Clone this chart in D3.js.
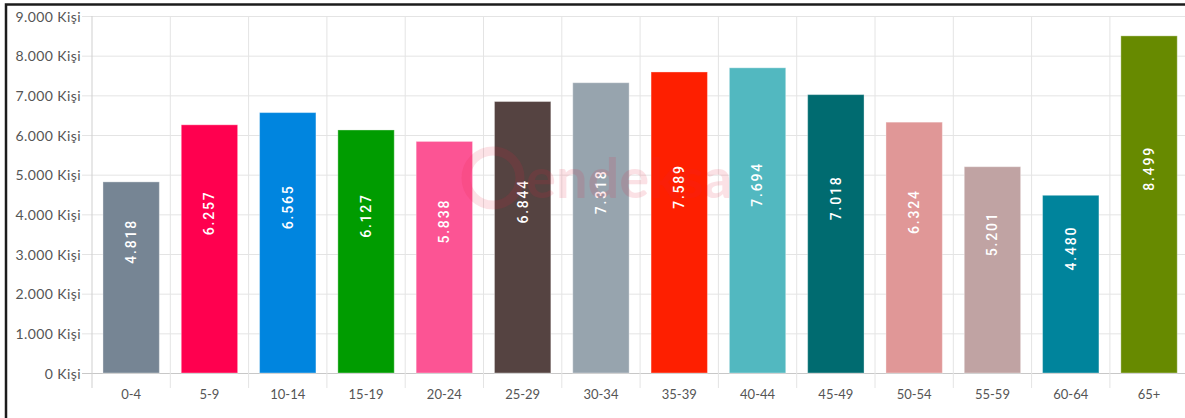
<!DOCTYPE html>
<html>
<head>
<meta charset="utf-8">
<script src="https://cdn.jsdelivr.net/npm/d3@7"></script>
<style>
  body { margin: 0; background: #fff; }
  svg { display: block; }
  .axis text { font-family: Lato, "Open Sans", sans-serif; fill: #555; }
  .axis .domain { display: none; }
</style>
</head>
<body>
<svg id="chart" width="1185" height="418"></svg>
<script>
// age groups and population counts
const ageGroups = ['0-4', '5-9', '10-14', '15-19', '20-24', '25-29', '30-34', '35-39', '40-44', '45-49', '50-54', '55-59', '60-64', '65+'];
const population = [4818, 6257, 6565, 6127, 5838, 6844, 7318, 7589, 7694, 7018, 6324, 5201, 4480, 8499];
const barColors = ['#768594', '#ff004f', '#0085df', '#009c00', '#fc5494', '#554341', '#97a4ae', '#fe1f00', '#52b8c0', '#006b70', '#e09797', '#c0a3a3', '#00849c', '#678a00'];
const yTicks = [0, 1000, 2000, 3000, 4000, 5000, 6000, 7000, 8000, 9000];

const svg = d3.select('#chart');
const width = +svg.attr('width');

const plotLeft = 92, plotTop = 16, plotBottom = 373, step = 78.3;

const x = d3.scaleBand()
  .domain(ageGroups)
  .range([plotLeft, plotLeft + step * ageGroups.length])
  .paddingInner(0.28)
  .paddingOuter(0.14);

const y = d3.scaleLinear().domain([0, 9000]).range([plotBottom, plotTop]);

const fmt = d => d3.format(',')(d).replace(/,/g, '.');

// horizontal grid + y labels
const yAxis = svg.append('g')
  .attr('class', 'axis')
  .attr('transform', `translate(82,0)`)
  .call(d3.axisLeft(y).tickValues(yTicks).tickSize(-(width - 82)).tickPadding(1).tickFormat(d => fmt(d) + ' Kişi'));
yAxis.selectAll('line').attr('stroke', d => d === 0 ? '#c8c8c8' : '#e4e4e4');
yAxis.selectAll('text').style('font-size', '14px').attr('letter-spacing', '0.4px').attr('dy', '0.36em');

// vertical grid at band boundaries
const bounds = d3.range(ageGroups.length + 1).map(i => plotLeft + i * step);
svg.append('g').selectAll('line').data(bounds).enter().append('line')
  .attr('x1', d => d).attr('x2', d => d)
  .attr('y1', plotTop).attr('y2', plotBottom + 15)
  .attr('stroke', (d, i) => i === 0 ? '#cfcfcf' : '#e4e4e4');

// x labels
svg.append('g')
  .attr('class', 'axis')
  .attr('transform', `translate(0,${plotBottom})`)
  .call(d3.axisBottom(x).tickSize(0).tickPadding(17))
  .selectAll('text').style('font-size', '13px');

// bars
svg.append('g').selectAll('rect').data(population).enter().append('rect')
  .attr('x', (d, i) => x(ageGroups[i]))
  .attr('y', d => y(d))
  .attr('width', x.bandwidth())
  .attr('height', d => y(0) - y(d))
  .attr('fill', (d, i) => barColors[i])
  .attr('stroke', 'rgba(255,255,255,0.35)')
  .attr('stroke-width', 1);

// value labels, rotated inside bars
svg.append('g').selectAll('text').data(population).enter().append('text')
  .attr('transform', (d, i) => {
    const cx = x(ageGroups[i]) + x.bandwidth() / 2;
    const cy = (y(d) + y(0)) / 2 - 36;
    return `translate(${cx},${cy}) rotate(-90)`;
  })
  .attr('text-anchor', 'middle')
  .attr('dy', '0.35em')
  .attr('letter-spacing', '1.8px')
  .style('font-family', 'Roboto, "Liberation Sans", Arial, sans-serif')
  .style('font-size', '14px')
  .style('font-weight', 500)
  .attr('fill', '#fff')
  .text(d => fmt(d));

// faint watermark
const wm = svg.append('g').attr('opacity', 0.13);
wm.append('circle').attr('cx', 493).attr('cy', 178).attr('r', 27)
  .attr('fill', 'none').attr('stroke', '#e8223f').attr('stroke-width', 9);
wm.append('text').attr('x', 526).attr('y', 198)
  .style('font-family', 'Lato, sans-serif').style('font-size', '56px').style('font-weight', 'bold')
  .attr('fill', '#e8223f').text('endeksa');

// outer frame (top and left edges)
svg.append('path')
  .attr('d', `M6,418 V4.5 H${width}`)
  .attr('fill', 'none')
  .attr('stroke', '#1c1c1c')
  .attr('stroke-width', 2.5);
</script>
</body>
</html>
